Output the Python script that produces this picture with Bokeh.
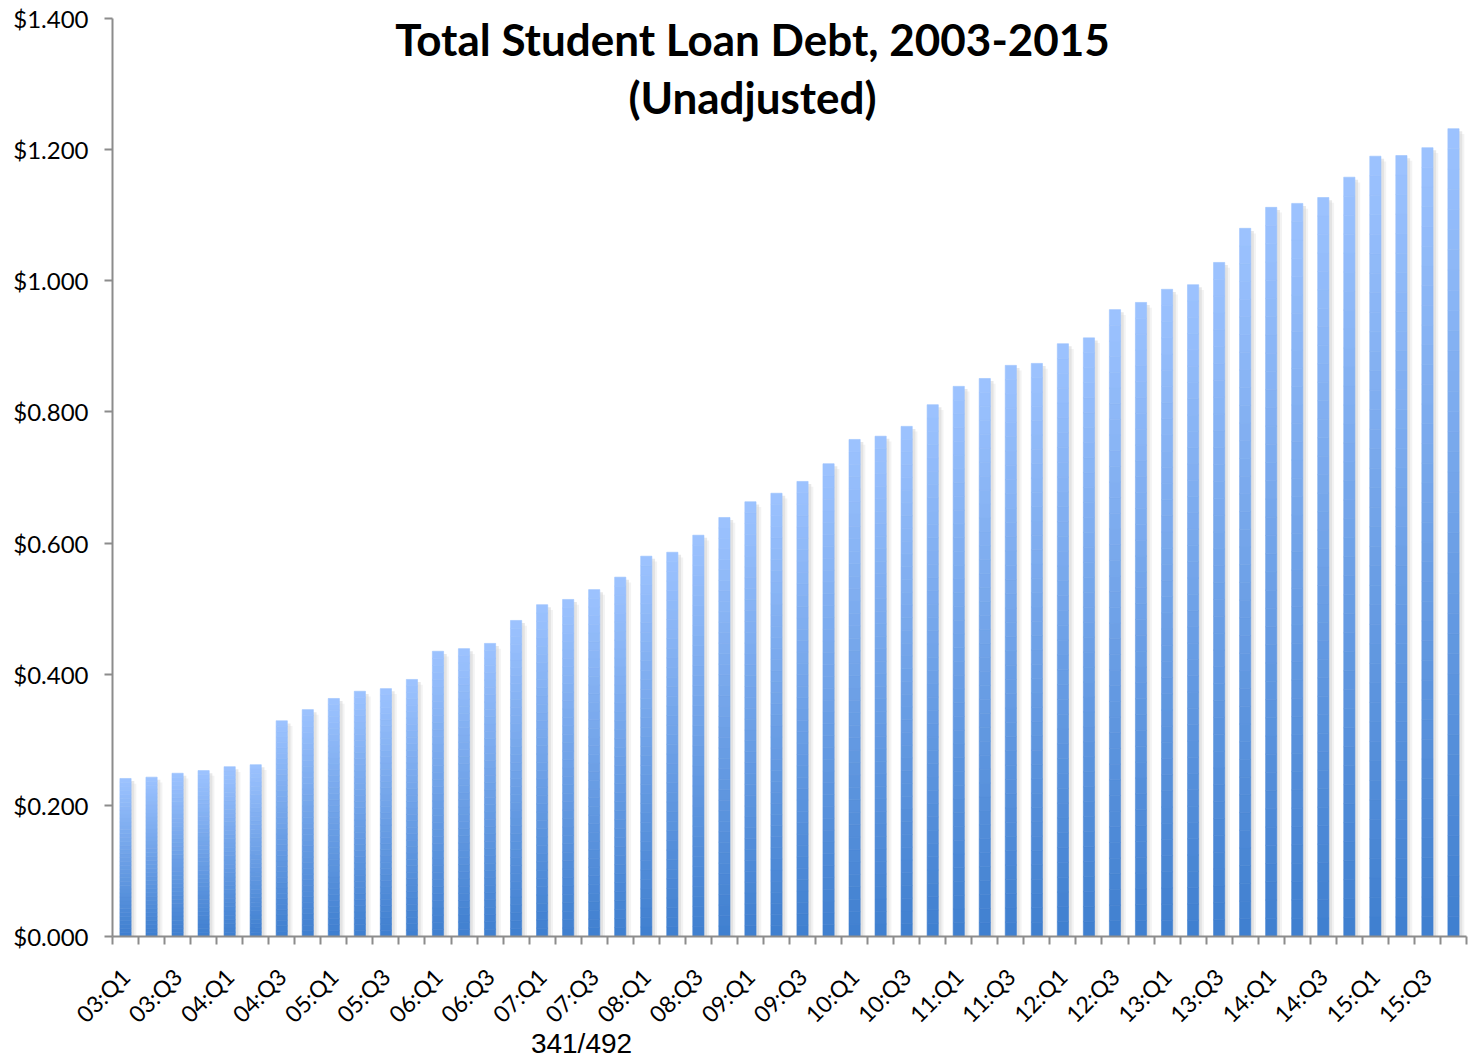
from bokeh.plotting import figure
from bokeh.models import FixedTicker, NumeralTickFormatter, Label, Range1d, ColumnDataSource
from bokeh.embed import file_html
from bokeh.resources import INLINE

# ---- data ----
quarters = [
    "03:Q1", "03:Q2", "03:Q3", "03:Q4",
    "04:Q1", "04:Q2", "04:Q3", "04:Q4",
    "05:Q1", "05:Q2", "05:Q3", "05:Q4",
    "06:Q1", "06:Q2", "06:Q3", "06:Q4",
    "07:Q1", "07:Q2", "07:Q3", "07:Q4",
    "08:Q1", "08:Q2", "08:Q3", "08:Q4",
    "09:Q1", "09:Q2", "09:Q3", "09:Q4",
    "10:Q1", "10:Q2", "10:Q3", "10:Q4",
    "11:Q1", "11:Q2", "11:Q3", "11:Q4",
    "12:Q1", "12:Q2", "12:Q3", "12:Q4",
    "13:Q1", "13:Q2", "13:Q3", "13:Q4",
    "14:Q1", "14:Q2", "14:Q3", "14:Q4",
    "15:Q1", "15:Q2", "15:Q3", "15:Q4",
]
debt_trillions = [
    0.241, 0.243, 0.249, 0.253, 0.259, 0.262, 0.329, 0.346,
    0.363, 0.374, 0.378, 0.392, 0.435, 0.439, 0.447, 0.482,
    0.506, 0.514, 0.529, 0.548, 0.580, 0.586, 0.612, 0.639,
    0.663, 0.676, 0.694, 0.721, 0.758, 0.763, 0.778, 0.811,
    0.839, 0.851, 0.871, 0.874, 0.904, 0.913, 0.956, 0.967,
    0.987, 0.994, 1.028, 1.080, 1.112, 1.118, 1.127, 1.158,
    1.190, 1.191, 1.203, 1.232,
]
y_ticks = [0.0, 0.2, 0.4, 0.6, 0.8, 1.0, 1.2, 1.4]
labeled_quarters = quarters[::2]
title_lines = ["Total Student Loan Debt, 2003-2015", "(Unadjusted)"]
footer_text = "341/492"

# ---- style / layout ----
FONT = "Lato"
BOTTOM_RGB = (0x3F, 0x7F, 0xCF)
TOP_RGB = (0x9D, 0xC3, 0xFF)
N_SEG = 40
BAR_W = 0.43

W, H = 1468, 1059
LEFT_PX, RIGHT_PX = 112, 1466       # axis area in page pixels
TOP_PX, AXIS_PX = 18, 936
n = len(quarters)
YMAX = y_ticks[-1]
px_x = (RIGHT_PX - LEFT_PX) / n
px_y = (AXIS_PX - TOP_PX) / YMAX
x_lo, x_hi = -LEFT_PX / px_x, n + (W - RIGHT_PX) / px_x
y_lo, y_hi = -(H - AXIS_PX) / px_y, YMAX + TOP_PX / px_y

centers = [i + 0.5 for i in range(n)]

p = figure(width=W, height=H, output_backend="svg", toolbar_location=None,
           x_range=Range1d(x_lo, x_hi), y_range=Range1d(y_lo, y_hi),
           min_border=0)
p.outline_line_color = None
p.xgrid.visible = False
p.ygrid.visible = False
p.background_fill_color = "white"
p.border_fill_color = "white"

# shadow behind bars
p.vbar(x=[c + 0.12 for c in centers], width=BAR_W, top=[v - 0.004 for v in debt_trillions],
       bottom=0, fill_color="#bdbdbd", fill_alpha=0.35, line_color=None)
p.vbar(x=[c + 0.2 for c in centers], width=BAR_W, top=[v - 0.008 for v in debt_trillions],
       bottom=0, fill_color="#d6d6d6", fill_alpha=0.3, line_color=None)

# gradient bars (segments derived from each bar's value)
xs, bots, tops, cols = [], [], [], []
for c, v in zip(centers, debt_trillions):
    for k in range(N_SEG):
        t = (k + 0.5) / N_SEG
        rgb = tuple(int(round(b + (tp - b) * t)) for b, tp in zip(BOTTOM_RGB, TOP_RGB))
        xs.append(c)
        bots.append(v * k / N_SEG)
        tops.append(v * (k + 1) / N_SEG)
        cols.append("#%02x%02x%02x" % rgb)
src = ColumnDataSource(dict(x=xs, bottom=bots, top=tops, color=cols))
p.vbar(x="x", width=BAR_W, bottom="bottom", top="top", source=src,
       fill_color="color", line_color="color", line_width=0.6)

# y axis, drawn at x = 0
ya = p.yaxis[0]
ya.fixed_location = 0
ya.ticker = FixedTicker(ticks=y_ticks)
ya.bounds = (0, YMAX)
ya.formatter = NumeralTickFormatter(format="$0.000")
ya.axis_line_color = "#8c8c8c"
ya.axis_line_width = 2
ya.major_tick_line_color = "#8c8c8c"
ya.major_tick_line_width = 2
ya.major_tick_out = 8
ya.major_tick_in = 0
ya.minor_tick_line_color = None
ya.major_label_standoff = 16
ya.major_label_text_font = FONT
ya.major_label_text_font_size = "24px"
ya.major_label_text_color = "black"

# x axis, drawn at y = 0
xa = p.xaxis[0]
xa.fixed_location = 0
xa.bounds = (0, n)
label_pos = [centers[i] for i in range(0, n, 2)]
xa.ticker = FixedTicker(ticks=label_pos, minor_ticks=list(range(n + 1)))
xa.major_label_overrides = {pos: lab for pos, lab in zip(label_pos, labeled_quarters)}
xa.axis_line_color = "#8c8c8c"
xa.axis_line_width = 2
xa.major_tick_line_color = None
xa.major_tick_out = 0
xa.major_tick_in = 0
xa.minor_tick_line_color = "#8c8c8c"
xa.minor_tick_line_width = 2
xa.minor_tick_out = 8
xa.minor_tick_in = 0
xa.major_label_orientation = 0.785398
xa.major_label_standoff = 28
xa.major_label_text_font = FONT
xa.major_label_text_font_size = "23px"
xa.major_label_text_color = "black"

# title (screen units, frame = whole canvas)
for line, py in zip(title_lines, [38, 96]):
    p.add_layout(Label(x=752, y=H - py, x_units="screen", y_units="screen",
                       text=line, text_align="center", text_baseline="middle",
                       text_font=FONT, text_font_style="bold", text_font_size="44px",
                       text_color="black"))

# footer
p.add_layout(Label(x=581, y=H - 1043, x_units="screen", y_units="screen",
                   text=footer_text, text_align="center", text_baseline="middle",
                   text_font="Liberation Sans", text_font_size="28px",
                   text_color="black"))

open("out.html", "w").write(file_html(p, INLINE))
